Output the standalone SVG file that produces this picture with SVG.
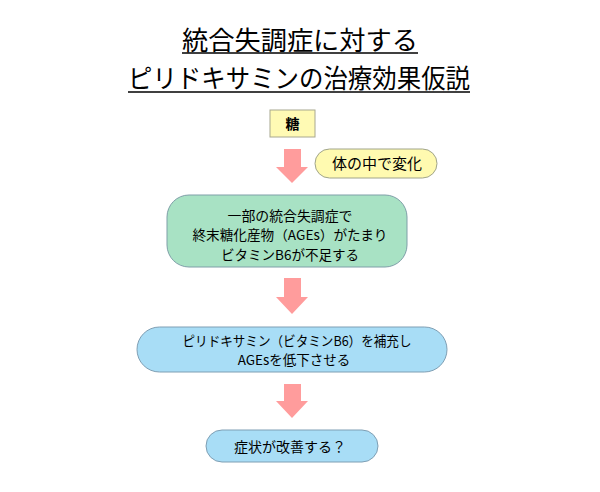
<svg xmlns="http://www.w3.org/2000/svg" width="600" height="492" viewBox="0 0 600 492">
<defs>
<style>
.t{font-family:"Noto Sans CJK JP","Noto Sans CJK SC",sans-serif;fill:#000;text-anchor:middle}
.title{font-size:26px}
.lbl{font-size:13.5px}
.arr{fill:#FF9C9C}
.ul{stroke:#000;stroke-width:1.5}
</style>
</defs>
<rect width="600" height="492" fill="#fff"/>
<g id="title">
<text class="t title" x="300" y="50" textLength="236" lengthAdjust="spacingAndGlyphs">統合失調症に対する</text>
<line class="ul" x1="182" y1="53" x2="418" y2="53"/>
<text class="t title" x="299" y="88" textLength="342" lengthAdjust="spacingAndGlyphs">ピリドキサミンの治療効果仮説</text>
<line class="ul" x1="128" y1="92" x2="470" y2="92"/>
</g>
<g id="connectors">
<path class="arr" d="M284,149 H301 V167 H308 L292,183 L276,167 H284 Z"/>
<path class="arr" d="M284,278 H301 V297 H308 L292,314 L276,297 H284 Z"/>
<path class="arr" d="M284,384 H301 V401 H308 L292,418 L276,401 H284 Z"/>
</g>
<g id="sugar">
<rect x="270" y="110" width="45" height="27" fill="#FFFAB4" stroke="#A8A890" stroke-width="1"/>
<text class="t" x="292.5" y="129" font-size="14" font-weight="bold">糖</text>
</g>
<g id="change">
<rect x="315" y="149" width="122" height="29" rx="14.5" fill="#FFFAB0" stroke="#A0A48A" stroke-width="1"/>
<text class="t" x="377" y="169" font-size="15">体の中で変化</text>
</g>
<g id="schizo">
<rect x="167" y="195" width="240" height="72" rx="22" fill="#A8E2C4" stroke="#7F9FA8" stroke-width="1"/>
<text class="t lbl" x="290" y="220.5" textLength="125" lengthAdjust="spacingAndGlyphs">一部の統合失調症で</text>
<text class="t lbl" x="290" y="240" textLength="195" lengthAdjust="spacingAndGlyphs">終末糖化産物（AGEs）がたまり</text>
<text class="t lbl" x="290" y="259.5">ビタミンB6が不足する</text>
</g>
<g id="pyridoxamine">
<rect x="137" y="327" width="310" height="45" rx="22.5" fill="#A8DDF6" stroke="#7F9FB4" stroke-width="1"/>
<text class="t lbl" x="297" y="345.5" textLength="229" lengthAdjust="spacingAndGlyphs">ピリドキサミン（ビタミンB6）を補充し</text>
<text class="t lbl" x="294" y="365">AGEsを低下させる</text>
</g>
<g id="improve">
<rect x="206" y="430" width="172" height="32" rx="16" fill="#A8DDF6" stroke="#7F9FB4" stroke-width="1"/>
<text class="t" x="290" y="452" font-size="14">症状が改善する？</text>
</g>
</svg>
